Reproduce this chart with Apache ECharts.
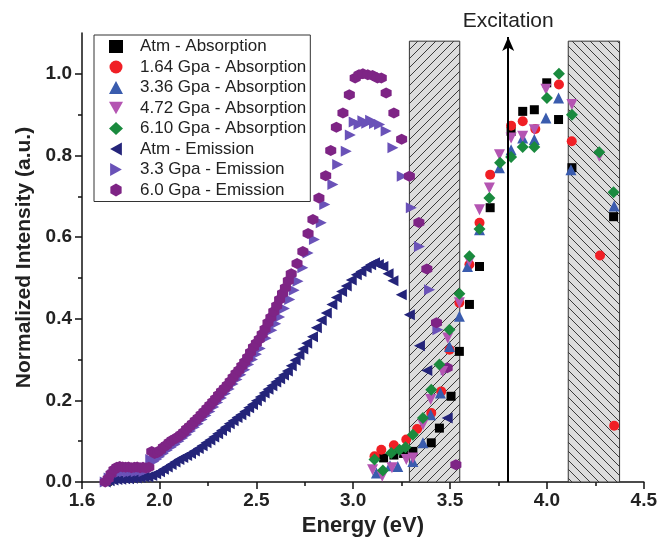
<!DOCTYPE html>
<html>
<head>
<meta charset="utf-8">
<script src="https://cdn.jsdelivr.net/npm/echarts@6/dist/echarts.min.js"></script>
<style>
  html, body { margin: 0; padding: 0; background: #fff; }
  #main { width: 660px; height: 557px; }
</style>
</head>
<body>
<div id="main"></div>
<script>
// series names
var seriesNames = [
  'Atm - Absorption', '1.64 Gpa - Absorption', '3.36 Gpa - Absorption',
  '4.72 Gpa - Absorption', '6.10 Gpa - Absorption',
  'Atm - Emission', '3.3 Gpa - Emission', '6.0 Gpa - Emission'
];

// absorption data [energy, intensity]
var atmAbs = [[3.157,0.059],[3.21,0.066],[3.26,0.07],[3.308,0.075],[3.403,0.096],[3.445,0.132],[3.505,0.21],[3.548,0.32],[3.6,0.435],[3.652,0.528],[3.707,0.672],[3.815,0.859],[3.875,0.908],[3.935,0.912],[3.999,0.978],[4.06,0.888],[4.129,0.77],[4.344,0.65]];
var gpa164Abs = [[3.11,0.063],[3.145,0.079],[3.21,0.09],[3.274,0.104],[3.33,0.13],[3.403,0.169],[3.454,0.222],[3.497,0.324],[3.548,0.439],[3.6,0.533],[3.652,0.635],[3.707,0.753],[3.815,0.873],[3.875,0.884],[3.94,0.865],[4.062,0.974],[4.128,0.835],[4.274,0.555],[4.347,0.138]];
var gpa336Abs = [[3.12,0.022],[3.19,0.04],[3.23,0.038],[3.308,0.05],[3.36,0.096],[3.40,0.165],[3.45,0.218],[3.497,0.332],[3.548,0.406],[3.59,0.528],[3.652,0.618],[3.755,0.77],[3.815,0.814],[3.875,0.843],[3.935,0.839],[3.995,0.892],[4.06,0.941],[4.124,0.765],[4.347,0.676]];
var gpa472Abs = [[3.1,0.03],[3.15,0.014],[3.2,0.035],[3.274,0.055],[3.308,0.059],[3.36,0.14],[3.40,0.202],[3.462,0.271],[3.488,0.353],[3.548,0.439],[3.6,0.54],[3.652,0.667],[3.703,0.72],[3.755,0.802],[3.815,0.843],[3.875,0.847],[3.935,0.863],[3.995,0.962],[4.129,0.925],[4.27,0.798]];
var gpa610Abs = [[3.11,0.055],[3.153,0.028],[3.196,0.071],[3.239,0.079],[3.27,0.085],[3.308,0.116],[3.36,0.157],[3.403,0.226],[3.445,0.288],[3.497,0.373],[3.548,0.461],[3.6,0.553],[3.652,0.62],[3.703,0.696],[3.758,0.782],[3.815,0.796],[3.875,0.821],[3.935,0.821],[4.0,0.941],[4.062,1.0],[4.129,0.9],[4.27,0.808],[4.344,0.71]];

// emission data
var atmEm = [[1.72,0.0],[1.74,0.003],[1.76,0.005],[1.78,0.006],[1.80,0.007],[1.82,0.008],[1.84,0.008],[1.86,0.009],[1.88,0.01],[1.90,0.011],[1.92,0.012],[1.94,0.013],[1.96,0.016],[1.98,0.02],[2.0,0.025],[2.02,0.031],[2.04,0.037],[2.06,0.043],[2.08,0.049],[2.10,0.055],[2.12,0.06],[2.14,0.065],[2.16,0.07],[2.18,0.076],[2.2,0.082],[2.22,0.089],[2.24,0.096],[2.26,0.103],[2.28,0.11],[2.30,0.118],[2.32,0.126],[2.34,0.134],[2.36,0.143],[2.38,0.15],[2.40,0.158],[2.42,0.165],[2.44,0.173],[2.46,0.182],[2.48,0.19],[2.50,0.199],[2.52,0.208],[2.54,0.218],[2.56,0.227],[2.58,0.236],[2.60,0.245],[2.62,0.253],[2.64,0.262],[2.66,0.272],[2.68,0.285],[2.70,0.298],[2.72,0.312],[2.74,0.326],[2.76,0.34],[2.79,0.356],[2.81,0.378],[2.835,0.396],[2.861,0.414],[2.89,0.435],[2.913,0.452],[2.94,0.467],[2.964,0.48],[2.99,0.495],[3.016,0.508],[3.04,0.516],[3.067,0.525],[3.09,0.532],[3.11,0.537],[3.13,0.533],[3.153,0.528],[3.18,0.51],[3.205,0.493],[3.248,0.459],[3.29,0.41],[3.342,0.334],[3.38,0.273],[3.485,0.157]];
var gpa33Em = [[1.72,0.0],[1.74,0.01],[1.76,0.018],[1.78,0.022],[1.80,0.024],[1.82,0.025],[1.84,0.024],[1.86,0.026],[1.88,0.025],[1.90,0.027],[1.92,0.026],[1.94,0.03],[1.955,0.055],[1.97,0.05],[1.985,0.056],[2.0,0.062],[2.02,0.07],[2.04,0.078],[2.06,0.085],[2.08,0.092],[2.10,0.1],[2.12,0.108],[2.14,0.116],[2.16,0.125],[2.18,0.134],[2.2,0.143],[2.22,0.153],[2.24,0.163],[2.26,0.173],[2.28,0.184],[2.30,0.195],[2.32,0.206],[2.34,0.217],[2.36,0.228],[2.38,0.24],[2.40,0.251],[2.42,0.263],[2.44,0.275],[2.46,0.288],[2.48,0.3],[2.50,0.313],[2.52,0.327],[2.55,0.352],[2.58,0.372],[2.60,0.388],[2.62,0.404],[2.645,0.425],[2.672,0.447],[2.695,0.47],[2.715,0.492],[2.74,0.525],[2.767,0.561],[2.80,0.594],[2.835,0.635],[2.853,0.68],[2.895,0.729],[2.92,0.778],[2.964,0.81],[2.985,0.85],[3.005,0.882],[3.03,0.876],[3.05,0.885],[3.07,0.879],[3.09,0.886],[3.11,0.878],[3.136,0.876],[3.17,0.86],[3.205,0.819],[3.253,0.749],[3.30,0.672],[3.342,0.577],[3.394,0.471],[3.437,0.373],[3.48,0.275]];
var gpa60Em = [[1.72,0.0],[1.735,0.008],[1.75,0.02],[1.765,0.03],[1.78,0.036],[1.795,0.038],[1.81,0.037],[1.825,0.036],[1.84,0.037],[1.855,0.035],[1.87,0.036],[1.885,0.037],[1.90,0.035],[1.915,0.036],[1.93,0.034],[1.945,0.036],[1.96,0.075],[1.975,0.07],[1.99,0.072],[2.005,0.078],[2.02,0.085],[2.035,0.09],[2.05,0.097],[2.065,0.102],[2.08,0.106],[2.095,0.11],[2.11,0.116],[2.125,0.122],[2.14,0.13],[2.155,0.136],[2.17,0.143],[2.185,0.15],[2.2,0.157],[2.215,0.165],[2.23,0.172],[2.245,0.18],[2.26,0.188],[2.275,0.196],[2.29,0.204],[2.305,0.213],[2.32,0.222],[2.335,0.229],[2.35,0.237],[2.365,0.246],[2.38,0.256],[2.395,0.266],[2.41,0.274],[2.425,0.284],[2.44,0.294],[2.455,0.305],[2.47,0.318],[2.485,0.33],[2.5,0.34],[2.515,0.35],[2.53,0.362],[2.545,0.375],[2.56,0.39],[2.575,0.403],[2.59,0.418],[2.605,0.432],[2.62,0.447],[2.635,0.462],[2.65,0.476],[2.665,0.493],[2.68,0.51],[2.71,0.535],[2.74,0.565],[2.767,0.609],[2.792,0.643],[2.823,0.696],[2.858,0.75],[2.884,0.812],[2.913,0.869],[2.947,0.904],[2.98,0.949],[3.01,0.99],[3.03,0.998],[3.05,1.0],[3.075,0.998],[3.1,0.996],[3.125,0.99],[3.145,0.99],[3.17,0.953],[3.21,0.904],[3.25,0.84],[3.29,0.749],[3.339,0.636],[3.38,0.522],[3.43,0.39],[3.485,0.28],[3.53,0.042]];

// hatched bands (energy ranges) and excitation energy
var hatchBands = [[3.29, 3.55, 0], [4.11, 4.375, 1]];
var bandTop = 1.08;
var excitation = 3.8;

// axis ticks
var xMajor = [1.6, 2.0, 2.5, 3.0, 3.5, 4.0, 4.5];
var xMinor = [1.75, 2.25, 2.75, 3.25, 3.75, 4.25];
var yMajor = [0.0, 0.2, 0.4, 0.6, 0.8, 1.0];
var yMinor = [0.1, 0.3, 0.5, 0.7, 0.9];

var FONT = 'Liberation Sans, Arial, sans-serif';

function makeHatch(dir) {
  var s = 9;
  var c = document.createElement('canvas');
  c.width = s; c.height = s;
  var g = c.getContext('2d');
  g.fillStyle = '#dcdcdc';
  g.fillRect(0, 0, s, s);
  g.strokeStyle = '#3a3a3a';
  g.lineWidth = 1;
  g.beginPath();
  if (dir === 0) {
    g.moveTo(-1, s + 1); g.lineTo(s + 1, -1);
    g.moveTo(-1, 1); g.lineTo(1, -1);
    g.moveTo(s - 1, s + 1); g.lineTo(s + 1, s - 1);
  } else {
    g.moveTo(-1, -1); g.lineTo(s + 1, s + 1);
    g.moveTo(s - 1, -1); g.lineTo(s + 1, 1);
    g.moveTo(-1, s - 1); g.lineTo(1, s + 1);
  }
  g.stroke();
  return c;
}
var hatches = [makeHatch(0), makeHatch(1)];

var symDown = 'path://M0,0 L10,0 L5,9 Z';
var symLeft = 'path://M9,0 L9,10 L0,5 Z';
var symRight = 'path://M0,0 L0,10 L9,5 Z';
var symHex = 'path://M5,0 L9.33,2.5 L9.33,7.5 L5,10 L0.67,7.5 L0.67,2.5 Z';

function scatter(name, data, symbol, size, color) {
  return {
    name: name, type: 'scatter', data: data, symbol: symbol, symbolSize: size,
    itemStyle: { color: color, opacity: 1 }, z: 3
  };
}

var myChart = echarts.init(document.getElementById('main'));

var option = {
  animation: false,
  backgroundColor: '#fff',
  grid: { left: 82, right: 15, top: 33, bottom: 75, containLabel: false },
  legend: {
    orient: 'vertical', left: 94, top: 35,
    padding: [3, 4, 3, 15], itemGap: 3.5, itemWidth: 14, itemHeight: 13,
    borderColor: '#333', borderWidth: 1, backgroundColor: '#fff',
    textStyle: { fontSize: 17, color: '#222', fontFamily: FONT, lineHeight: 17, padding: [0, 0, 0, 12] },
    data: seriesNames
  },
  xAxis: [{
    type: 'value', min: 1.6, max: 4.5, position: 'bottom',
    name: 'Energy (eV)', nameLocation: 'middle', nameGap: 27,
    nameTextStyle: { fontSize: 22, fontWeight: 'bold', color: '#222', fontFamily: FONT },
    axisLine: { lineStyle: { color: '#111', width: 1.5 } },
    axisTick: { customValues: xMajor, length: 7, lineStyle: { color: '#111', width: 1.5 } },
    axisLabel: { customValues: xMajor, formatter: function (v) { return v.toFixed(1); },
      fontSize: 19, fontWeight: 'bold', color: '#222', fontFamily: FONT, margin: 9 },
    splitLine: { show: false }
  }, {
    type: 'value', min: 1.6, max: 4.5, position: 'bottom',
    axisLine: { show: false }, axisLabel: { show: false }, splitLine: { show: false },
    axisTick: { customValues: xMinor, length: 4, lineStyle: { color: '#111', width: 1.5 } }
  }],
  yAxis: [{
    type: 'value', min: 0, max: 1.1, position: 'left',
    name: 'Normalized Intensity (a.u.)', nameLocation: 'middle', nameGap: 37,
    nameTextStyle: { fontSize: 21, fontWeight: 'bold', color: '#222', fontFamily: FONT },
    axisLine: { show: true, lineStyle: { color: '#111', width: 1.5 } },
    axisTick: { show: true, customValues: yMajor, length: 7, lineStyle: { color: '#111', width: 1.5 } },
    axisLabel: { customValues: yMajor, formatter: function (v) { return v.toFixed(1); },
      fontSize: 19, fontWeight: 'bold', color: '#222', fontFamily: FONT, margin: 10 },
    splitLine: { show: false }
  }, {
    type: 'value', min: 0, max: 1.1, position: 'left',
    axisLine: { show: false }, axisLabel: { show: false }, splitLine: { show: false },
    axisTick: { show: true, customValues: yMinor, length: 4, lineStyle: { color: '#111', width: 1.5 } }
  }],
  series: [
    {
      type: 'custom', name: 'bands', z: 1, silent: true,
      data: hatchBands,
      encode: { x: [0, 1] },
      renderItem: function (params, api) {
        var p0 = api.coord([api.value(0), bandTop]);
        var p1 = api.coord([api.value(1), 0]);
        return {
          type: 'rect',
          shape: { x: p0[0], y: p0[1], width: p1[0] - p0[0], height: p1[1] - p0[1] },
          style: { fill: { image: hatches[api.value(2)], repeat: 'repeat' }, stroke: '#333', lineWidth: 1 }
        };
      },
      markLine: {
        silent: true, symbol: ['none', 'arrow'], symbolSize: [9, 14],
        lineStyle: { color: '#000', width: 2, type: 'solid' },
        label: { show: true, position: 'end', formatter: 'Excitation', fontSize: 21,
          color: '#222', fontFamily: FONT, distance: 5 },
        data: [[{ coord: [excitation, 0] }, { coord: [excitation, 1.09] }]]
      }
    },
    scatter(seriesNames[5], atmEm, symLeft, 11, '#24247a'),
    scatter(seriesNames[6], gpa33Em, symRight, 11, '#6a52b8'),
    scatter(seriesNames[7], gpa60Em, symHex, 11, '#7e2485'),
    scatter(seriesNames[0], atmAbs, 'rect', 9, '#000000'),
    scatter(seriesNames[1], gpa164Abs, 'circle', 10, '#f01f25'),
    scatter(seriesNames[2], gpa336Abs, 'triangle', 11, '#3a5cae'),
    scatter(seriesNames[3], gpa472Abs, symDown, 11, '#b455b2'),
    scatter(seriesNames[4], gpa610Abs, 'diamond', 12, '#1a8a3e')
  ]
};

myChart.setOption(option);
</script>
</body>
</html>
